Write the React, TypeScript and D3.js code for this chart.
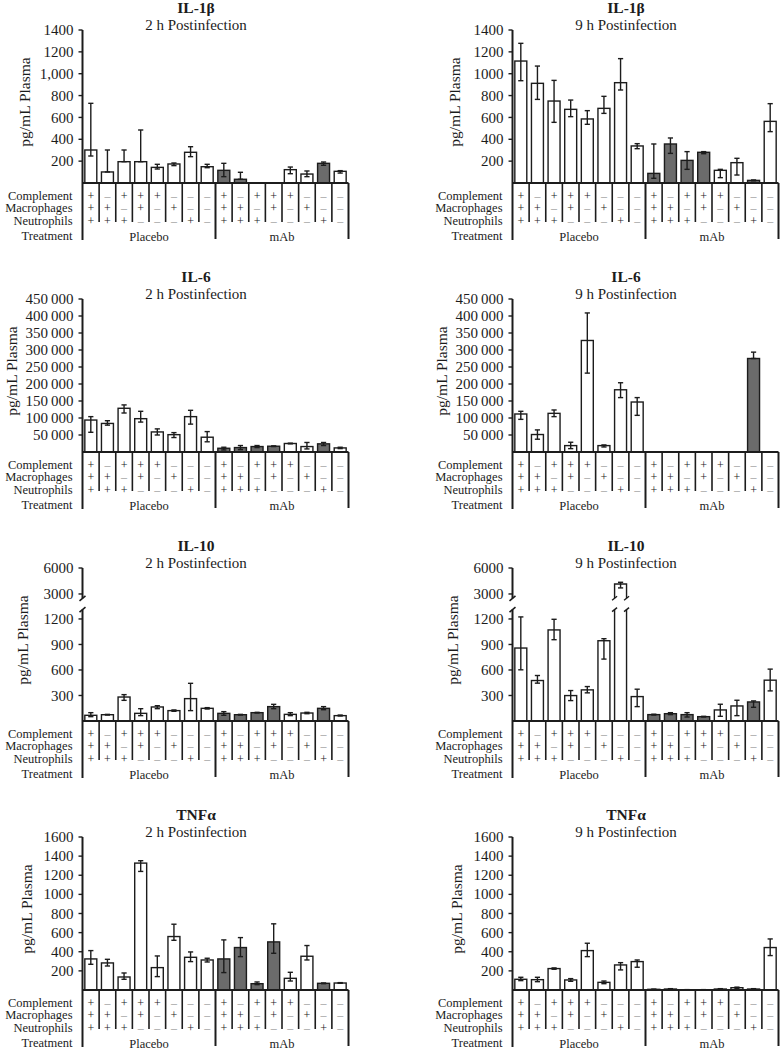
import React from 'react';
import * as d3 from 'd3';

// ---------- table conditions ----------
const complement = ['+', '–', '+', '+', '+', '–', '–', '–', '+', '–', '+', '+', '+', '–', '–', '–'];
const macrophages = ['+', '+', '–', '+', '–', '+', '–', '–', '+', '+', '–', '+', '–', '+', '–', '–'];
const neutrophils = ['+', '+', '+', '–', '–', '–', '+', '–', '+', '+', '+', '–', '–', '–', '+', '–'];
const treatments = ['Placebo', 'mAb'];
const darkBars = [0, 0, 0, 0, 0, 0, 0, 0, 1, 1, 1, 1, 0, 0, 1, 0];

// ---------- IL-1β ----------
const il1b2hMean = [302, 101, 195, 195, 143, 174, 281, 149, 116, 34, 0, 0, 122, 82, 180, 107];
const il1b2hUpper = [729, 302, 302, 485, 171, 183, 332, 171, 180, 98, 0, 0, 146, 110, 192, 113];
const il1b2hLower = [247, 101, 195, 195, 128, 159, 241, 140, 58, 34, 0, 0, 85, 58, 162, 91];

const il1b9hMean = [1116, 912, 750, 674, 586, 683, 918, 339, 88, 357, 207, 281, 116, 186, 24, 564];
const il1b9hUpper = [1278, 1070, 939, 759, 662, 793, 1138, 360, 357, 412, 287, 287, 125, 226, 28, 726];
const il1b9hLower = [936, 765, 555, 607, 537, 637, 851, 314, 43, 271, 125, 268, 49, 73, 20, 470];

const il1bTicks = [200, 400, 600, 800, 1000, 1200, 1400];
const il1b2hTickLabels = ['200', '400', '600', '800', '1,000', '1200', '1400'];
const il1b9hTickLabels = ['200', '400', '600', '800', '1000', '1200', '1400'];

// ---------- IL-6 ----------
const il62hMean = [94000, 84000, 128600, 98000, 59000, 51000, 104000, 43500, 11000, 13000, 16000, 17000, 25000, 16000, 24000, 12000];
const il62hUpper = [104000, 92000, 138500, 119700, 68000, 57000, 122600, 60000, 14000, 19000, 19000, 18000, 26000, 28000, 28000, 14000];
const il62hLower = [58000, 79000, 114700, 88000, 50000, 42500, 82000, 30000, 6000, 7000, 13000, 16000, 24000, 9000, 19000, 10000];

const il69hMean = [111800, 51400, 113700, 18800, 328000, 18800, 183000, 147000, 600, 600, 600, 600, 800, 500, 275000, 0];
const il69hUpper = [119700, 65000, 123600, 28700, 409000, 20800, 203700, 160000, 600, 600, 600, 600, 800, 500, 293700, 0];
const il69hLower = [96000, 37600, 104000, 9900, 232000, 14800, 160000, 107800, 600, 600, 600, 600, 800, 500, 275000, 0];

const il6Ticks = [50000, 100000, 150000, 200000, 250000, 300000, 350000, 400000, 450000];
const il6TickLabels = ['50\u2009000', '100\u2009000', '150\u2009000', '200\u2009000', '250\u2009000', '300\u2009000', '350\u2009000', '400\u2009000', '450\u2009000'];

// ---------- IL-10 ----------
const il102hMean = [67, 74, 282, 90, 165, 122, 263, 149, 90, 74, 98, 169, 78, 94, 149, 63];
const il102hUpper = [98, 78, 310, 145, 180, 130, 443, 157, 110, 78, 102, 196, 98, 102, 169, 70];
const il102hLower = [51, 70, 243, 63, 145, 114, 122, 141, 67, 70, 94, 145, 63, 86, 133, 59];

const il109hMean = [858, 476, 1071, 299, 366, 944, 4150, 287, 75, 86, 75, 51, 130, 177, 224, 480];
const il109hUpper = [1224, 535, 1196, 358, 405, 968, 4350, 374, 80, 98, 98, 55, 197, 244, 236, 610];
const il109hLower = [602, 445, 956, 240, 331, 728, 3700, 169, 70, 75, 47, 47, 55, 63, 161, 354];

const il10Ticks = [300, 600, 900, 1200, 3000, 6000];
const il10TickLabels = ['300', '600', '900', '1200', '3000', '6000'];

// ---------- TNFα ----------
const tnf2hMean = [325, 283, 136, 1327, 234, 559, 342, 314, 325, 444, 66, 503, 122, 353, 70, 73];
const tnf2hUpper = [412, 321, 178, 1352, 356, 688, 398, 332, 524, 548, 84, 692, 185, 465, 74, 77];
const tnf2hLower = [269, 251, 112, 1240, 140, 520, 297, 293, 182, 349, 56, 384, 94, 314, 66, 70];

const tnf9hMean = [112, 108, 224, 105, 412, 80, 262, 297, 7, 10, 3, 3, 10, 24, 10, 444];
const tnf9hUpper = [133, 133, 231, 119, 489, 94, 286, 314, 9, 14, 4, 4, 14, 30, 14, 534];
const tnf9hLower = [98, 87, 217, 91, 349, 66, 210, 238, 5, 6, 2, 2, 6, 18, 6, 360];

const tnfTicks = [200, 400, 600, 800, 1000, 1200, 1400, 1600];
const tnfTickLabels = ['200', '400', '600', '800', '1000', '1200', '1400', '1600'];

const FONT = '"Liberation Serif", "DejaVu Serif", serif';
const INK = '#1c1c1c';
const DARK = '#6b6b6b';
const DASH = '#9a9a9a';

type PanelProps = {
  col: number;
  row: number;
  title: string;
  subtitle: string;
  mean: number[];
  upper: number[];
  lower: number[];
  ticks: number[];
  tickLabels: string[];
  max: number;
  broken?: boolean;
  ylabelOffset: number;
};

const PLOT_W = 266;
const PLOT_H = 153;

function Panel(p: PanelProps) {
  const ax = p.col === 0 ? 82.5 : 512.5;
  const B = 183 + 269 * p.row;
  const x = d3
    .scaleBand<number>()
    .domain(d3.range(16))
    .range([ax, ax + PLOT_W])
    .paddingInner(0.28)
    .paddingOuter(0.14);
  const step = x.step();
  const bw = x.bandwidth();

  // y scales (broken for IL-10)
  const yMain = d3.scaleLinear().domain([0, p.max]).range([B, B - PLOT_H]);
  const lowMax = 1310;
  const yLow = d3.scaleLinear().domain([0, lowMax]).range([B, B - 111.4]);
  const yHigh = d3.scaleLinear().domain([2500, 6000]).range([B - 122.7, B - PLOT_H]);
  const y = (v: number) => (p.broken ? (v <= lowMax ? yLow(v) : yHigh(v)) : yMain(v));

  const elems: React.ReactNode[] = [];

  // bars
  p.mean.forEach((v, i) => {
    if (v <= 0) return;
    const x0 = x(i)!;
    const fill = darkBars[i] ? DARK : '#ffffff';
    if (p.broken && v > lowMax) {
      const yTopLow = yLow(lowMax);
      const yBotHigh = yHigh(2500);
      const yv = y(v);
      elems.push(
        <g key={'bb' + i}>
          <rect x={x0} y={yTopLow} width={bw} height={B - yTopLow} fill={fill} stroke="none" />
          <line x1={x0} x2={x0} y1={B} y2={yTopLow} stroke={INK} strokeWidth={1.4} />
          <line x1={x0 + bw} x2={x0 + bw} y1={B} y2={yTopLow} stroke={INK} strokeWidth={1.4} />
          <rect x={x0} y={yv} width={bw} height={yBotHigh - yv} fill={fill} stroke="none" />
          <path d={`M${x0},${yBotHigh} V${yv} H${x0 + bw} V${yBotHigh}`} fill="none" stroke={INK} strokeWidth={1.4} />
          {[x0, x0 + bw].map((xx, k) => (
            <g key={k}>
              <line x1={xx - 2.5} x2={xx + 2.5} y1={yBotHigh + 2} y2={yBotHigh - 2} stroke={INK} strokeWidth={1.4} />
              <line x1={xx - 2.5} x2={xx + 2.5} y1={yTopLow + 2} y2={yTopLow - 2} stroke={INK} strokeWidth={1.4} />
            </g>
          ))}
        </g>
      );
    } else {
      elems.push(
        <rect key={'b' + i} x={x0} y={y(v)} width={bw} height={B - y(v)} fill={fill} stroke={INK} strokeWidth={1.4} />
      );
    }
  });

  // error bars
  p.mean.forEach((v, i) => {
    if (v <= 0) return;
    const cx = x(i)! + bw / 2;
    const yu = y(p.upper[i]);
    const yl = y(p.lower[i]);
    elems.push(
      <g key={'e' + i} stroke={INK} strokeWidth={1.4}>
        <line x1={cx} x2={cx} y1={yl} y2={yu} />
        <line x1={cx - 2.6} x2={cx + 2.6} y1={yu} y2={yu} />
        <line x1={cx - 2.6} x2={cx + 2.6} y1={yl} y2={yl} />
      </g>
    );
  });

  // axis
  const axisBottom = B + 57;
  if (p.broken) {
    const yTopLow = yLow(lowMax);
    const yBotHigh = yHigh(2500);
    elems.push(
      <g key="axis" stroke={INK} strokeWidth={2}>
        <line x1={ax} x2={ax} y1={B - PLOT_H} y2={yBotHigh} />
        <line x1={ax} x2={ax} y1={yTopLow} y2={axisBottom} />
        <line x1={ax - 3} x2={ax + 3} y1={yBotHigh + 2.5} y2={yBotHigh - 2.5} strokeWidth={1.6} />
        <line x1={ax - 3} x2={ax + 3} y1={yTopLow + 2.5} y2={yTopLow - 2.5} strokeWidth={1.6} />
      </g>
    );
  } else {
    elems.push(<line key="axis" x1={ax} x2={ax} y1={B - PLOT_H} y2={axisBottom} stroke={INK} strokeWidth={2} />);
  }

  // ticks
  p.ticks.forEach((t, k) => {
    const ty = y(t);
    elems.push(
      <g key={'t' + k}>
        <line x1={ax - 4} x2={ax} y1={ty} y2={ty} stroke={INK} strokeWidth={1.4} />
        <text x={ax - 9} y={ty} dy="0.34em" textAnchor="end" fontSize={15} fill={INK} fontFamily={FONT}>
          {p.tickLabels[k]}
        </text>
      </g>
    );
  });

  // baseline
  elems.push(<line key="base" x1={ax} x2={ax + PLOT_W} y1={B} y2={B} stroke={INK} strokeWidth={2} />);

  // table separators
  for (let k = 1; k <= 16; k++) {
    const xx = ax + k * step;
    const deep = k === 8 || k === 16;
    elems.push(
      <line key={'s' + k} x1={xx} x2={xx} y1={B} y2={deep ? axisBottom - 1 : B + 39} stroke={INK} strokeWidth={deep ? 2 : 1.6} />
    );
  }

  // table rows
  const rows: [string, string[], number][] = [
    ['Complement', complement, 12.5],
    ['Macrophages', macrophages, 25],
    ['Neutrophils', neutrophils, 37.5],
  ];
  rows.forEach(([label, signs, dy], r) => {
    elems.push(
      <text key={'rl' + r} x={ax - 10} y={B + dy} dy="0.34em" textAnchor="end" fontSize={12.5} fill={INK} fontFamily={FONT}>
        {label}
      </text>
    );
    signs.forEach((s, i) => {
      elems.push(
        <text
          key={'sg' + r + '_' + i}
          x={x(i)! + bw / 2}
          y={B + dy}
          dy="0.34em"
          textAnchor="middle"
          fontSize={12}
          fill={s === '+' ? INK : DASH}
          fontFamily={FONT}
        >
          {s}
        </text>
      );
    });
  });
  elems.push(
    <text key="trt" x={ax - 10} y={B + 53} dy="0.34em" textAnchor="end" fontSize={12.5} fill={INK} fontFamily={FONT}>
      Treatment
    </text>
  );
  treatments.forEach((t, k) => {
    elems.push(
      <text key={'tr' + k} x={ax + PLOT_W * (0.25 + 0.5 * k)} y={B + 54} dy="0.34em" textAnchor="middle" fontSize={12.5} fill={INK} fontFamily={FONT}>
        {t}
      </text>
    );
  });

  // titles
  const tx = ax + 113.5;
  elems.push(
    <text key="title" x={tx} y={B - 175} dy="0.34em" textAnchor="middle" fontSize={15.5} fontWeight="bold" fill={INK} fontFamily={FONT}>
      {p.title}
    </text>
  );
  elems.push(
    <text key="sub" x={tx} y={B - 158} dy="0.34em" textAnchor="middle" fontSize={15} fill={INK} fontFamily={FONT}>
      {p.subtitle}
    </text>
  );

  // y label
  elems.push(
    <text
      key="ylab"
      transform={`translate(${ax + p.ylabelOffset},${B - 81}) rotate(-90)`}
      textAnchor="middle"
      dy="0.34em"
      fontSize={15.5}
      fill={INK}
      fontFamily={FONT}
    >
      pg/mL Plasma
    </text>
  );

  return <g>{elems}</g>;
}

export default function App() {
  const ylOff = [-58, -71, -60, -56];
  return (
    <svg
      width={780}
      height={1051}
      viewBox="0 0 780 1051"
      style={{ position: 'absolute', left: 0, top: 0, background: '#ffffff' }}
    >
      <rect x={0} y={0} width={780} height={1051} fill="#ffffff" />
      <Panel col={0} row={0} title="IL-1β" subtitle="2 h Postinfection" mean={il1b2hMean} upper={il1b2hUpper} lower={il1b2hLower} ticks={il1bTicks} tickLabels={il1b2hTickLabels} max={1400} ylabelOffset={ylOff[0]} />
      <Panel col={1} row={0} title="IL-1β" subtitle="9 h Postinfection" mean={il1b9hMean} upper={il1b9hUpper} lower={il1b9hLower} ticks={il1bTicks} tickLabels={il1b9hTickLabels} max={1400} ylabelOffset={ylOff[0]} />
      <Panel col={0} row={1} title="IL-6" subtitle="2 h Postinfection" mean={il62hMean} upper={il62hUpper} lower={il62hLower} ticks={il6Ticks} tickLabels={il6TickLabels} max={450000} ylabelOffset={ylOff[1]} />
      <Panel col={1} row={1} title="IL-6" subtitle="9 h Postinfection" mean={il69hMean} upper={il69hUpper} lower={il69hLower} ticks={il6Ticks} tickLabels={il6TickLabels} max={450000} ylabelOffset={ylOff[1]} />
      <Panel col={0} row={2} title="IL-10" subtitle="2 h Postinfection" mean={il102hMean} upper={il102hUpper} lower={il102hLower} ticks={il10Ticks} tickLabels={il10TickLabels} max={6000} broken ylabelOffset={ylOff[2]} />
      <Panel col={1} row={2} title="IL-10" subtitle="9 h Postinfection" mean={il109hMean} upper={il109hUpper} lower={il109hLower} ticks={il10Ticks} tickLabels={il10TickLabels} max={6000} broken ylabelOffset={ylOff[2]} />
      <Panel col={0} row={3} title="TNFα" subtitle="2 h Postinfection" mean={tnf2hMean} upper={tnf2hUpper} lower={tnf2hLower} ticks={tnfTicks} tickLabels={tnfTickLabels} max={1600} ylabelOffset={ylOff[3]} />
      <Panel col={1} row={3} title="TNFα" subtitle="9 h Postinfection" mean={tnf9hMean} upper={tnf9hUpper} lower={tnf9hLower} ticks={tnfTicks} tickLabels={tnfTickLabels} max={1600} ylabelOffset={ylOff[3]} />
    </svg>
  );
}
